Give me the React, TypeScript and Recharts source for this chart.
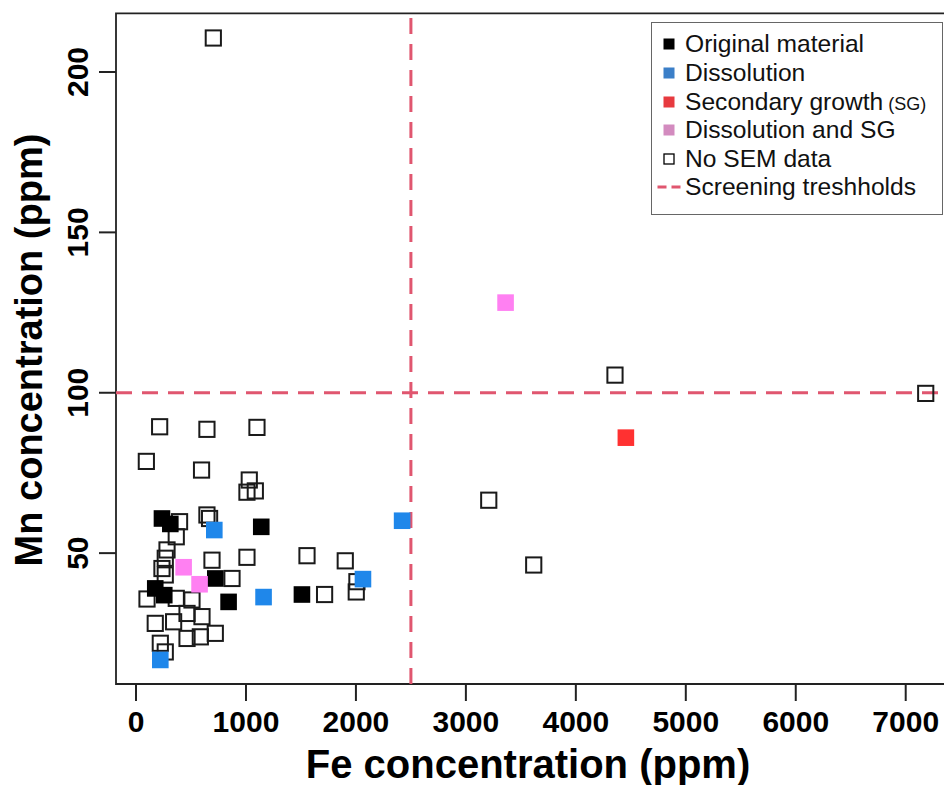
import React from 'react';
import {
  ScatterChart,
  Scatter,
  XAxis,
  YAxis,
  ReferenceLine,
  ReferenceArea,
  Legend,
  Label,
} from 'recharts';

// Fe (ppm), Mn (ppm) pairs
const originalMaterial: [number, number][] = [
  [236, 60.8], [312, 59.1], [1139, 58.2], [721, 42.1],
  [175, 39.0], [257, 36.9], [842, 34.8], [1509, 37.1],
];
const dissolution: [number, number][] = [
  [712, 57.2], [1160, 36.3], [221, 16.7], [2064, 41.9], [2420, 60.1],
];
const secondaryGrowth: [number, number][] = [[4455, 86.0]];
const dissolutionAndSG: [number, number][] = [
  [433, 45.6], [578, 40.3], [3361, 128.1],
];
const noSemData: [number, number][] = [
  [703, 210.6], [215, 89.4], [645, 88.6], [1100, 89.2], [94, 78.6],
  [596, 75.9], [1030, 72.8], [1009, 69.0], [1085, 69.4], [645, 61.9],
  [669, 60.8], [396, 59.8], [366, 55.1], [282, 51.0], [266, 48.4],
  [236, 45.2], [266, 43.2], [691, 47.8], [1009, 48.7], [873, 42.1],
  [1555, 49.2], [1903, 47.6], [1715, 37.1], [2009, 41.1], [2003, 37.9],
  [100, 35.7], [366, 35.9], [509, 35.4], [464, 31.2], [600, 30.2],
  [175, 28.1], [342, 28.6], [464, 23.4], [585, 23.9], [721, 25.0],
  [221, 21.9], [266, 19.2], [3208, 66.5], [3617, 46.3], [4356, 105.5],
  [7182, 99.8],
];

const feTicks = [0, 1000, 2000, 3000, 4000, 5000, 6000, 7000];
const mnTicks = [50, 100, 150, 200];
const feThreshold = 2500;
const mnThreshold = 100;
const feDomain: [number, number] = [-182, 7421];
const mnDomain: [number, number] = [9.2, 218.3];

const FONT = '"Liberation Sans", Arial, Helvetica, sans-serif';
const THRESHOLD_COLOR = '#e0566f';

const toPoints = (rows: [number, number][]) =>
  rows.map(([fe, mn]) => ({ fe, mn }));

const filledSquare = (color: string) => (props: any) => (
  <rect
    x={props.cx - 8.3}
    y={props.cy - 8.3}
    width={16.6}
    height={16.6}
    fill={color}
  />
);

const openSquare = (props: any) => (
  <rect
    x={props.cx - 7.6}
    y={props.cy - 7.6}
    width={15.2}
    height={15.2}
    fill="none"
    stroke="#1a1a1a"
    strokeWidth={2}
  />
);

const XTick = ({ x, y, payload }: any) => (
  <text
    x={x}
    y={y + 30.5}
    textAnchor="middle"
    fontFamily={FONT}
    fontWeight="bold"
    fontSize={30}
    fill="#000"
  >
    {payload.value}
  </text>
);

const YTick = ({ x, y, payload }: any) => {
  const bx = x - 10.7;
  return (
    <text
      x={bx}
      y={y}
      transform={`rotate(-90, ${bx}, ${y})`}
      textAnchor="middle"
      fontFamily={FONT}
      fontWeight="bold"
      fontSize={30}
      fill="#000"
    >
      {payload.value}
    </text>
  );
};

const legendItems = [
  { label: 'Original material', kind: 'fill', color: '#000000' },
  { label: 'Dissolution', kind: 'fill', color: '#3b7fc8' },
  { label: 'Secondary growth', small: '(SG)', kind: 'fill', color: '#e73a3f' },
  { label: 'Dissolution and SG', kind: 'fill', color: '#d38bbf' },
  { label: 'No SEM data', kind: 'open', color: '#000000' },
  { label: 'Screening treshholds', kind: 'line', color: THRESHOLD_COLOR },
];

const renderLegend = () => (
  <div
    style={{
      width: 292,
      height: 193,
      boxSizing: 'border-box',
      border: '1.5px solid #666',
      background: '#fff',
      paddingTop: 7.5,
      fontFamily: FONT,
      fontSize: 24.6,
      color: '#111',
    }}
  >
    {legendItems.map(item => (
      <div
        key={item.label}
        style={{ height: 28.6, display: 'flex', alignItems: 'center' }}
      >
        <svg width={33} height={28} style={{ flex: 'none' }}>
          {item.kind === 'fill' && (
            <rect x={11.5} y={8.5} width={11} height={11} fill={item.color} />
          )}
          {item.kind === 'open' && (
            <rect
              x={12}
              y={9}
              width={10}
              height={10}
              fill="none"
              stroke="#000"
              strokeWidth={1.3}
            />
          )}
          {item.kind === 'line' && (
            <line
              x1={5.5}
              y1={14}
              x2={29}
              y2={14}
              stroke={item.color}
              strokeWidth={3}
              strokeDasharray="9 5"
            />
          )}
        </svg>
        <span style={{ whiteSpace: 'nowrap' }}>
          {item.label}
          {item.small && (
            <span style={{ fontSize: 18 }}> {item.small}</span>
          )}
        </span>
      </div>
    ))}
  </div>
);

const XTitle = ({ viewBox }: any) => (
  <text
    x={viewBox.x + 412}
    y={778}
    textAnchor="middle"
    fontFamily={FONT}
    fontWeight="bold"
    fontSize={40}
    fill="#000"
  >
    Fe concentration (ppm)
  </text>
);

const YTitle = () => (
  <text
    x={42}
    y={350}
    transform="rotate(-90, 42, 350)"
    textAnchor="middle"
    fontFamily={FONT}
    fontWeight="bold"
    fontSize={38}
    fill="#000"
  >
    Mn concentration (ppm)
  </text>
);

export default function App() {
  return (
    <div
      style={{
        position: 'absolute',
        left: 0,
        top: 0,
        width: 944,
        height: 785,
        overflow: 'hidden',
        background: '#fff',
      }}
    >
      <ScatterChart
        width={960}
        height={785}
        margin={{ top: 13.3, right: 8, bottom: 0, left: 0 }}
      >
        <XAxis
          type="number"
          dataKey="fe"
          domain={feDomain}
          ticks={feTicks}
          allowDataOverflow
          height={101}
          axisLine={false}
          tickSize={17}
          tickMargin={0}
          tickLine={{ stroke: '#222', strokeWidth: 2 }}
          tick={<XTick />}
          interval={0}
        >
          <Label content={<XTitle />} />
        </XAxis>
        <YAxis
          type="number"
          dataKey="mn"
          domain={mnDomain}
          ticks={mnTicks}
          allowDataOverflow
          width={116}
          axisLine={false}
          tickSize={17}
          tickMargin={0}
          tickLine={{ stroke: '#222', strokeWidth: 2 }}
          tick={<YTick />}
          interval={0}
        >
          <Label content={<YTitle />} />
        </YAxis>
        <ReferenceArea
          x1={feDomain[0]}
          x2={feDomain[1]}
          y1={mnDomain[0]}
          y2={mnDomain[1]}
          fill="none"
          stroke="#222"
          strokeWidth={1.8}
        />
        <ReferenceLine
          x={feThreshold}
          stroke={THRESHOLD_COLOR}
          strokeWidth={3}
          strokeDasharray="16 10"
        />
        <ReferenceLine
          y={mnThreshold}
          stroke={THRESHOLD_COLOR}
          strokeWidth={3}
          strokeDasharray="16 10"
        />
        <Scatter
          name="No SEM data"
          data={toPoints(noSemData)}
          shape={openSquare}
          isAnimationActive={false}
        />
        <Scatter
          name="Original material"
          data={toPoints(originalMaterial)}
          shape={filledSquare('#000000')}
          isAnimationActive={false}
        />
        <Scatter
          name="Dissolution"
          data={toPoints(dissolution)}
          shape={filledSquare('#1f87ea')}
          isAnimationActive={false}
        />
        <Scatter
          name="Secondary growth (SG)"
          data={toPoints(secondaryGrowth)}
          shape={filledSquare('#ff3131')}
          isAnimationActive={false}
        />
        <Scatter
          name="Dissolution and SG"
          data={toPoints(dissolutionAndSG)}
          shape={filledSquare('#ff80f2')}
          isAnimationActive={false}
        />
        <Legend
          layout="vertical"
          align="center"
          verticalAlign="middle"
          content={renderLegend}
          wrapperStyle={{ left: 651, top: 21.7, width: 292, height: 193 }}
        />
      </ScatterChart>
    </div>
  );
}
